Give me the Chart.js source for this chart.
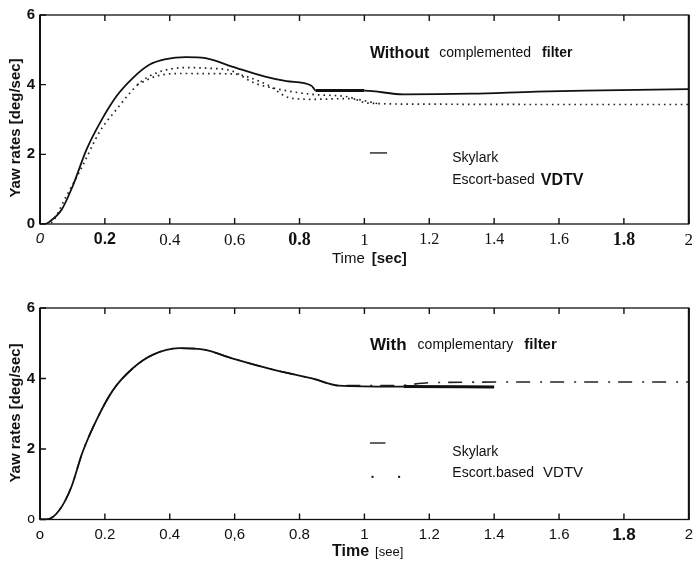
<!DOCTYPE html>
<html><head><meta charset="utf-8">
<script src="https://cdn.jsdelivr.net/npm/chart.js@4/dist/chart.umd.min.js"></script>
<style>
html,body{margin:0;padding:0;background:#fff;}
#wrap{position:relative;width:699px;height:564px;overflow:hidden;}
.box{position:absolute;left:0;width:699px;}
</style></head><body>
<div id="wrap">
<div class="box" style="top:0;height:272px"><canvas id="c1"></canvas></div>
<div class="box" style="top:280px;height:284px"><canvas id="c2"></canvas></div>
</div>
<script>
// ---------- data ----------
const xTickLabelsTop = ['0','0.2','0.4','0.6','0.8','1','1.2','1.4','1.6','1.8','2'];
const xTickLabelsBottom = ['o','0.2','0.4','0,6','0.8','1','1.2','1.4','1.6','1.8','2'];
const yTickLabelsTop = ['0','2','4','6'];
const yTickLabelsBottom = ['o','2','4','6'];

// Top panel: without complemented filter
const topSkylarkT = [0, 0.015, 0.03, 0.066, 0.10, 0.143, 0.184, 0.235, 0.286, 0.337, 0.388, 0.449, 0.51, 0.592, 0.694, 0.76, 0.837, 0.85, 1.0, 1.12, 1.33, 1.53, 1.68, 2.0];
const topSkylarkY = [0, 0, 0.07, 0.4, 1.07, 2.13, 2.89, 3.66, 4.19, 4.57, 4.73, 4.79, 4.76, 4.52, 4.23, 4.1, 3.97, 3.83, 3.83, 3.72, 3.74, 3.8, 3.83, 3.87];
const topEscortAT = [0, 0.03, 0.08, 0.13, 0.184, 0.235, 0.306, 0.357, 0.45, 0.52, 0.59, 0.66, 0.72, 0.84, 0.95, 1.01, 1.2, 1.6, 2.0];
const topEscortAY = [0, 0.02, 0.78, 1.65, 2.65, 3.28, 4.04, 4.33, 4.49, 4.47, 4.40, 4.05, 3.9, 3.72, 3.65, 3.47, 3.44, 3.43, 3.43];
const topEscortBT = [0.30, 0.36, 0.43, 0.59, 0.70, 0.77, 0.84, 0.95, 1.05];
const topEscortBY = [4.0, 4.25, 4.32, 4.31, 4.0, 3.62, 3.58, 3.6, 3.44];

// Bottom panel: with complementary filter
const botSkylarkT = [0, 0.02, 0.06, 0.097, 0.13, 0.174, 0.225, 0.286, 0.347, 0.429, 0.51, 0.592, 0.715, 0.847, 0.92, 1.12, 1.4];
const botSkylarkY = [0, 0, 0.27, 0.93, 1.88, 2.82, 3.67, 4.29, 4.67, 4.86, 4.81, 4.57, 4.26, 3.98, 3.8, 3.77, 3.76];
const botEscortT = [0, 0.02, 0.06, 0.097, 0.13, 0.174, 0.225, 0.286, 0.347, 0.429, 0.51, 0.592, 0.715, 0.847, 0.92, 1.1, 1.2, 1.5, 2.0];
const botEscortY = [0, 0, 0.27, 0.93, 1.88, 2.82, 3.67, 4.29, 4.67, 4.86, 4.81, 4.57, 4.26, 3.98, 3.8, 3.8, 3.88, 3.9, 3.9];

const pts = (t, y) => t.map((v, i) => ({x: v, y: y[i]}));

// ---------- fonts ----------
const SANS = '"Liberation Sans", Arial, sans-serif';
const SERIF = '"Liberation Serif", "Times New Roman", serif';
const topXFonts = [
  {family: SANS, size: 15, style: 'italic'},
  {family: SANS, size: 16, weight: 'bold'},
  {family: SERIF, size: 17},
  {family: SERIF, size: 17},
  {family: SERIF, size: 18, weight: 'bold'},
  {family: SERIF, size: 17},
  {family: SERIF, size: 16},
  {family: SERIF, size: 16},
  {family: SERIF, size: 16},
  {family: SERIF, size: 18, weight: 'bold'},
  {family: SERIF, size: 17}
];
const botXFont = (i) => i === 9 ? {family: SANS, size: 17, weight: 'bold'} : {family: SANS, size: 15};

function drawRuns(ctx, x, y, runs) {
  ctx.textBaseline = 'middle';
  ctx.textAlign = 'left';
  let cx = x;
  for (const r of runs) {
    ctx.font = r.font;
    ctx.fillText(r.t, cx, y);
    cx += ctx.measureText(r.t).width + (r.gap || 0);
  }
}

const framePlugin = {
  id: 'frame',
  afterDatasetsDraw(chart, args, opts) {
    const ctx = chart.ctx, a = chart.chartArea;
    const xs = chart.scales.x, ys = chart.scales.y;
    ctx.save();
    ctx.strokeStyle = '#111';
    ctx.lineWidth = 1.3;
    ctx.strokeRect(a.left, a.top, a.right - a.left, a.bottom - a.top);
    ctx.lineWidth = 2;
    ctx.beginPath();
    ctx.moveTo(a.left, a.top); ctx.lineTo(a.left, a.bottom);
    ctx.moveTo(a.right, a.top); ctx.lineTo(a.right, a.bottom);
    ctx.stroke();
    // inward ticks
    ctx.lineWidth = 1.4;
    ctx.beginPath();
    xs.ticks.forEach(t => {
      const px = xs.getPixelForValue(t.value);
      ctx.moveTo(px, a.top); ctx.lineTo(px, a.top + 6);
      ctx.moveTo(px, a.bottom); ctx.lineTo(px, a.bottom - 6);
    });
    ys.ticks.forEach(t => {
      const py = ys.getPixelForValue(t.value);
      ctx.moveTo(a.left, py); ctx.lineTo(a.left + 6, py);
    });
    ctx.stroke();

    ctx.fillStyle = '#111';
    const P = (vx, vy) => [xs.getPixelForValue(vx), ys.getPixelForValue(vy)];
    let [tx, ty] = P(opts.titleAt[0], opts.titleAt[1]);
    drawRuns(ctx, tx, ty, opts.titleRuns);
    [tx, ty] = P(opts.sky[0], opts.sky[1]);
    drawRuns(ctx, tx, ty, opts.skyRuns);
    [tx, ty] = P(opts.esc[0], opts.esc[1]);
    drawRuns(ctx, tx, ty, opts.escRuns);
    ctx.strokeStyle = '#111';
    ctx.lineWidth = 1.3;
    const [l0, ly] = P(opts.legLine[0], opts.legLine[2]);
    const [l1] = P(opts.legLine[1], opts.legLine[2]);
    ctx.beginPath(); ctx.moveTo(l0, ly); ctx.lineTo(l1, ly); ctx.stroke();
    if (opts.legDots) {
      opts.legDots.forEach(d => {
        const [dx, dy] = P(d[0], d[1]);
        ctx.fillRect(dx - 1, dy - 1, 2, 2);
      });
    }
    drawRuns(ctx, opts.xTitle.x, opts.xTitle.y, opts.xTitle.runs);
    ctx.translate(opts.yTitle.x, opts.yTitle.y);
    ctx.rotate(-Math.PI / 2);
    ctx.font = 'bold 15px ' + SANS;
    ctx.textAlign = 'center';
    ctx.textBaseline = 'middle';
    ctx.fillText(opts.yTitle.text, 0, 0);
    ctx.restore();
  }
};

function makeChart(id, datasets, cfg) {
  return new Chart(document.getElementById(id), {
    type: 'line',
    data: {datasets},
    plugins: [framePlugin],
    options: {
      responsive: true,
      maintainAspectRatio: false,
      animation: false,
      layout: {padding: {left: 0, right: 6, top: cfg.padTop, bottom: 0}},
      elements: {point: {radius: 0}, line: {cubicInterpolationMode: 'monotone'}},
      plugins: {legend: {display: false}, tooltip: {enabled: false}, frame: cfg.frame},
      scales: {
        x: {
          type: 'linear', min: 0, max: 2,
          afterFit: s => { s.height = cfg.xAxisH; },
          grid: {display: false, drawTicks: false},
          border: {display: false},
          ticks: {
            stepSize: 0.2, autoSkip: false, maxRotation: 0, padding: cfg.xTickPad,
            color: '#111',
            callback: (v, i) => cfg.xLabels[i],
            font: c => cfg.xFont(c.index)
          }
        },
        y: {
          min: 0, max: 6,
          afterFit: s => { s.width = 40; },
          grid: {display: false, drawTicks: false},
          border: {display: false},
          ticks: {
            stepSize: 2, padding: 5, color: '#111',
            callback: (v, i) => cfg.yLabels[i],
            font: c => (cfg.yLabels[c.index] === 'o')
              ? {family: SANS, size: 14}
              : {family: SANS, size: 15, weight: 'bold'}
          }
        }
      }
    }
  });
}

const thickBetween = (lo, hi) => ({
  borderWidth: c => (c.p0.parsed.x >= lo && c.p1.parsed.x <= hi) ? 3 : 1.8
});

makeChart('c1', [
  {label: 'Skylark', data: pts(topSkylarkT, topSkylarkY), borderColor: '#111', borderWidth: 1.8, order: 0, segment: thickBetween(0.849, 1.0)},
  {label: 'Escort-based VDTV', data: pts(topEscortAT, topEscortAY), borderColor: '#222', borderWidth: 1.7, borderDash: [1.6, 4], order: 1},
  {label: 'Escort-based VDTV', data: pts(topEscortBT, topEscortBY), borderColor: '#222', borderWidth: 1.7, borderDash: [1.6, 4], order: 1}
], {
  padTop: 15, xAxisH: 48, xTickPad: 6,
  xLabels: xTickLabelsTop, yLabels: yTickLabelsTop,
  xFont: i => topXFonts[i],
  frame: {
    titleAt: [1.017, 4.9],
    titleRuns: [
      {t: 'Without', font: 'bold 16px ' + SANS, gap: 10},
      {t: 'complemented', font: '14px ' + SANS, gap: 11},
      {t: 'filter', font: 'bold 14px ' + SANS}
    ],
    sky: [1.271, 1.9], skyRuns: [{t: 'Skylark', font: '14px ' + SANS}],
    esc: [1.271, 1.26], escRuns: [
      {t: 'Escort-based', font: '14px ' + SANS, gap: 6},
      {t: 'VDTV', font: 'bold 16px ' + SANS}
    ],
    legLine: [1.017, 1.07, 2.04],
    legDots: null,
    xTitle: {x: 332, y: 259, runs: [
      {t: 'Time', font: '15px ' + SANS, gap: 7},
      {t: '[sec]', font: 'bold 15px ' + SANS}
    ]},
    yTitle: {x: 15.5, y: 128, text: 'Yaw rates [deg/sec]'}
  }
});

makeChart('c2', [
  {label: 'Skylark', data: pts(botSkylarkT, botSkylarkY), borderColor: '#111', borderWidth: 1.8, order: 0, segment: thickBetween(1.11, 1.4)},
  {label: 'Escort.based VDTV', data: pts(botEscortT, botEscortY), borderColor: '#222', borderWidth: 1.6, borderDash: [14, 10, 2, 8], order: 1}
], {
  padTop: 28, xAxisH: 44.5, xTickPad: 6,
  xLabels: xTickLabelsBottom, yLabels: yTickLabelsBottom,
  xFont: botXFont,
  frame: {
    titleAt: [1.017, 4.95],
    titleRuns: [
      {t: 'With', font: 'bold 17px ' + SANS, gap: 11},
      {t: 'complementary', font: '14px ' + SANS, gap: 11},
      {t: 'filter', font: 'bold 15px ' + SANS}
    ],
    sky: [1.271, 1.91], skyRuns: [{t: 'Skylark', font: '14px ' + SANS}],
    esc: [1.271, 1.32], escRuns: [
      {t: 'Escort.based', font: '14px ' + SANS, gap: 9},
      {t: 'VDTV', font: '15px ' + SANS}
    ],
    legLine: [1.017, 1.065, 2.17],
    legDots: [[1.025, 1.21], [1.107, 1.21]],
    xTitle: {x: 332, y: 272, runs: [
      {t: 'Time', font: 'bold 16px ' + SANS, gap: 6},
      {t: '[see]', font: '13px ' + SANS}
    ]},
    yTitle: {x: 15.5, y: 133, text: 'Yaw rates [deg/sec]'}
  }
});
</script>
</body></html>
